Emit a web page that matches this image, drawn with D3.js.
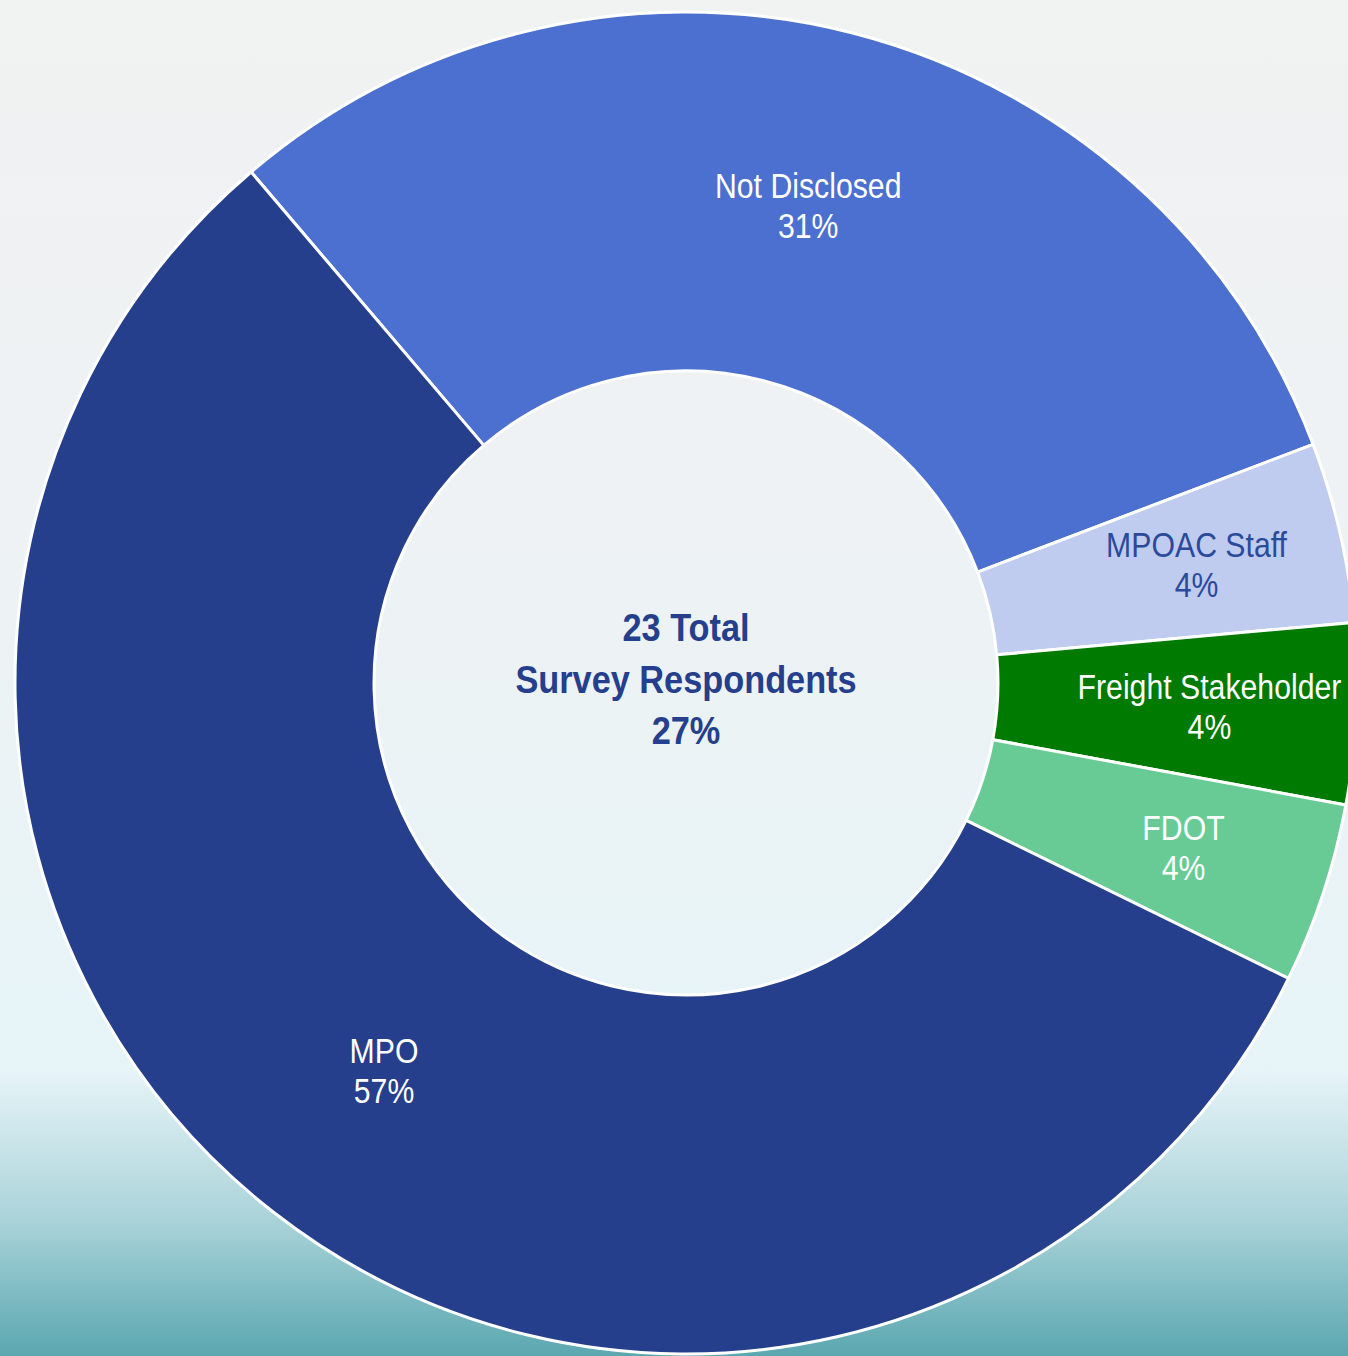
<!DOCTYPE html>
<html lang="en">
<head>
<meta charset="UTF-8">
<title>Survey Respondents</title>
<style>
  * { margin: 0; padding: 0; }
  body { width: 1348px; height: 1356px; overflow: hidden; }
  svg { display: block; font-family: "Liberation Sans", Arial, sans-serif; }
</style>
<script src="https://cdnjs.cloudflare.com/ajax/libs/d3/7.8.5/d3.min.js"></script>
</head>
<body>
<script>
// slice data, clockwise from the MPO / Not Disclosed boundary
var categories = ['Not Disclosed', 'MPOAC Staff', 'Freight Stakeholder', 'FDOT', 'MPO'];
var counts = [7, 1, 1, 1, 13];
var percentLabels = ['31%', '4%', '4%', '4%', '57%'];
var sliceColors = ['#4b70cf', '#bfccef', '#007a00', '#68cb96', '#253f8c'];
var labelColors = ['#ffffff', '#2a4a9a', '#ffffff', '#ffffff', '#ffffff'];
var centerLines = ['23 Total', 'Survey Respondents', '27%'];

var width = 1348, height = 1356;
var cx = 686, cy = 683;
var outerR = 671, innerR = 312;

var svg = d3.select('body').append('svg')
  .attr('width', width)
  .attr('height', height);

// background gradient
var defs = svg.append('defs');
var grad = defs.append('linearGradient')
  .attr('id', 'bg')
  .attr('x1', 0).attr('y1', 0).attr('x2', 0).attr('y2', 1);
grad.append('stop').attr('offset', '0%').attr('stop-color', '#f1f2f2');
grad.append('stop').attr('offset', '45%').attr('stop-color', '#edf2f4');
grad.append('stop').attr('offset', '79%').attr('stop-color', '#e6f4f8');
grad.append('stop').attr('offset', '90%').attr('stop-color', '#a9d3d9');
grad.append('stop').attr('offset', '100%').attr('stop-color', '#5ba7b0');

svg.append('rect')
  .attr('width', width)
  .attr('height', height)
  .attr('fill', 'url(#bg)');

var startA = -40.4 * Math.PI / 180;

var pie = d3.pie()
  .sort(null)
  .value(function(d) { return d; })
  .startAngle(startA)
  .endAngle(startA + 2 * Math.PI);

var arcs = pie(counts);

var arc = d3.arc()
  .innerRadius(innerR)
  .outerRadius(outerR);

var g = svg.append('g')
  .attr('transform', 'translate(' + cx + ',' + cy + ')');

g.selectAll('path.slice')
  .data(arcs)
  .enter()
  .append('path')
  .attr('class', 'slice')
  .attr('d', arc)
  .attr('fill', function(d, i) { return sliceColors[i]; })
  .attr('stroke', '#ffffff')
  .attr('stroke-width', 3)
  .attr('stroke-linejoin', 'round');

// small slices get their label pushed a bit further out
var labelArc = function(d) {
  var span = d.endAngle - d.startAngle;
  var r = span < 0.4 ? 524 : 492;
  return d3.arc().innerRadius(r).outerRadius(r).centroid(d);
};

// narrow type: regular face squeezed horizontally
var labels = g.selectAll('text.label')
  .data(arcs)
  .enter()
  .append('text')
  .attr('class', 'label')
  .attr('text-anchor', 'middle')
  .attr('font-size', 36)
  .attr('fill', function(d, i) { return labelColors[i]; })
  .attr('transform', function(d) {
    var c = labelArc(d);
    return 'translate(' + c[0] + ',' + c[1] + ') scale(0.84,1)';
  });

labels.append('tspan')
  .attr('x', 0)
  .attr('y', -8)
  .text(function(d, i) { return categories[i]; });
labels.append('tspan')
  .attr('x', 0)
  .attr('y', 32)
  .text(function(d, i) { return percentLabels[i]; });

// center text
var center = g.append('text')
  .attr('text-anchor', 'middle')
  .attr('font-size', 39)
  .attr('font-weight', 'bold')
  .attr('fill', '#253f8c')
  .attr('transform', 'scale(0.88,1)');

center.selectAll('tspan')
  .data(centerLines)
  .enter()
  .append('tspan')
  .attr('x', 0)
  .attr('y', function(d, i) { return -42 + i * 51.5; })
  .text(function(d) { return d; });
</script>
</body>
</html>
